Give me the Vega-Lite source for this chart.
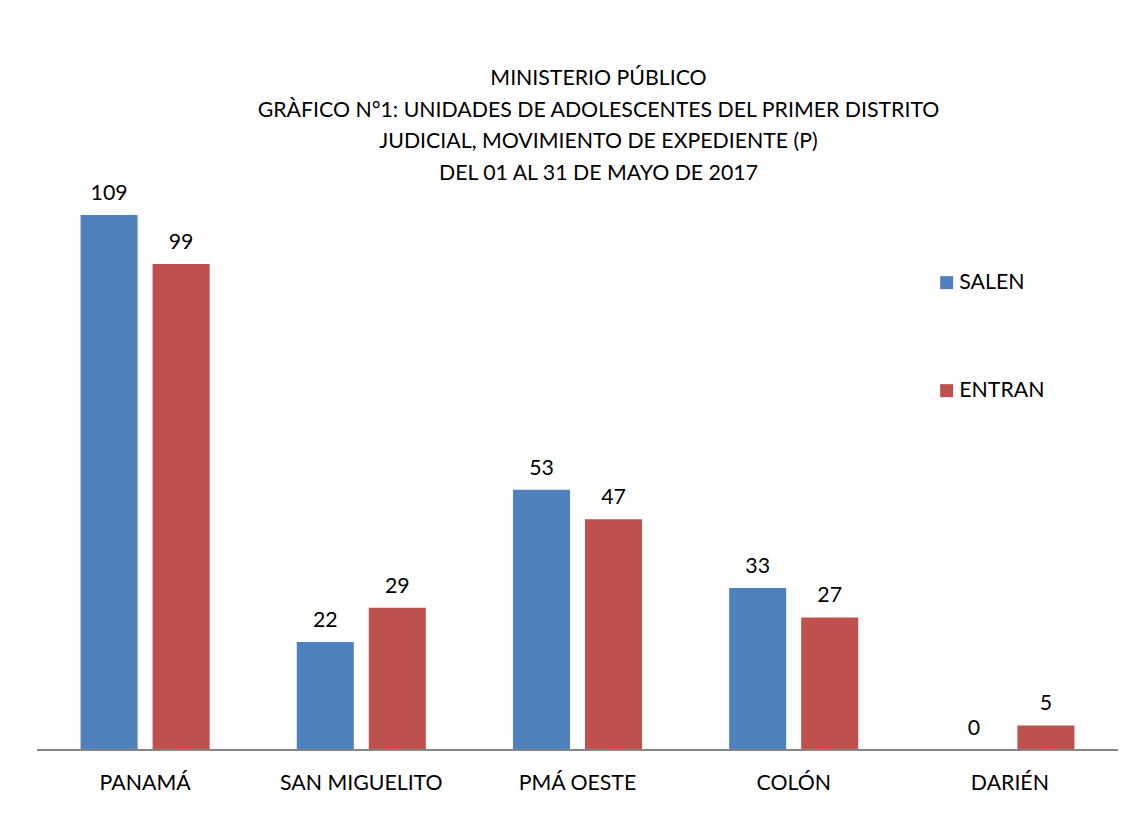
{
  "$schema": "https://vega.github.io/schema/vega-lite/v6.json",
  "autosize": "none",
  "width": 1081,
  "height": 535,
  "padding": {"left": 37, "top": 215, "right": 24, "bottom": 89},
  "background": "white",
  "config": {"view": {"stroke": null}, "font": "Lato"},
  "title": {
    "text": ["MINISTERIO PÚBLICO", "GRÀFICO N°1: UNIDADES DE ADOLESCENTES DEL PRIMER DISTRITO", "JUDICIAL, MOVIMIENTO DE EXPEDIENTE (P)", "DEL 01 AL 31 DE MAYO DE 2017"],
    "anchor": "middle",
    "fontSize": 21.3,
    "fontWeight": "normal",
    "lineHeight": 31.5,
    "color": "#000000",
    "font": "Lato",
    "offset": -1,
    "dx": 21
  },
  "data": {
    "values": [
      {"region": "PANAMÁ", "serie": "SALEN", "valor": 109},
      {"region": "PANAMÁ", "serie": "ENTRAN", "valor": 99},
      {"region": "SAN MIGUELITO", "serie": "SALEN", "valor": 22},
      {"region": "SAN MIGUELITO", "serie": "ENTRAN", "valor": 29},
      {"region": "PMÁ OESTE", "serie": "SALEN", "valor": 53},
      {"region": "PMÁ OESTE", "serie": "ENTRAN", "valor": 47},
      {"region": "COLÓN", "serie": "SALEN", "valor": 33},
      {"region": "COLÓN", "serie": "ENTRAN", "valor": 27},
      {"region": "DARIÉN", "serie": "SALEN", "valor": 0},
      {"region": "DARIÉN", "serie": "ENTRAN", "valor": 5}
    ]
  },
  "encoding": {
    "x": {
      "field": "region", "type": "nominal", "sort": null,
      "scale": {"paddingInner": 0.403, "paddingOuter": 0.2015},
      "axis": {"title": null, "labelAngle": 0, "ticks": false, "domain": false, "labelFontSize": 21.3, "labelColor": "#000000", "labelPadding": 22, "labelFont": "Lato"}
    },
    "xOffset": {"field": "serie", "type": "nominal", "sort": ["SALEN", "ENTRAN"], "scale": {"paddingInner": 0.208, "paddingOuter": 0}},
    "y": {
      "field": "valor", "type": "quantitative",
      "scale": {"domain": [0, 109], "nice": false},
      "axis": null
    }
  },
  "layer": [
    {
      "mark": {"type": "bar"},
      "encoding": {
        "color": {
          "field": "serie", "type": "nominal", "sort": ["SALEN", "ENTRAN"],
          "scale": {"domain": ["SALEN", "ENTRAN"], "range": ["#4F81BD", "#C0504D"]},
          "legend": {
            "title": null, "orient": "none", "legendX": 899, "legendY": 57,
            "symbolType": "square", "symbolSize": 169, "symbolStrokeWidth": 0, "symbolOpacity": 1,
            "labelFontSize": 21.3, "labelColor": "#000000", "labelFont": "Lato",
            "rowPadding": 86, "labelOffset": 2
          }
        }
      }
    },
    {
      "mark": {"type": "text", "baseline": "bottom", "dy": -11, "fontSize": 21.3, "color": "#000000", "font": "Lato"},
      "encoding": {"text": {"field": "valor", "type": "quantitative"}}
    },
    {
      "mark": {"type": "rule", "color": "#868686", "strokeWidth": 1.5},
      "encoding": {"y": {"datum": 0}, "x": null, "xOffset": null}
    }
  ]
}
